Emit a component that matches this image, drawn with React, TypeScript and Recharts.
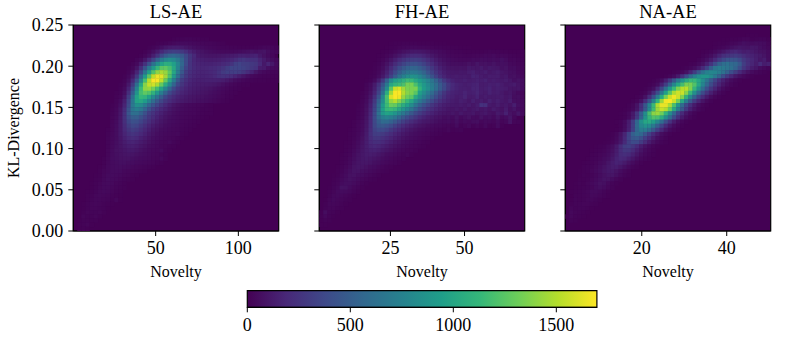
import React from 'react';
import { ScatterChart, Scatter, XAxis, YAxis, CartesianGrid, ReferenceArea, Label } from 'recharts';

// each row of a panel is [first column, counts...]; rows run from the top of the plot down, 50 x 50 bins
const lsRows: number[][] = [
  [], [], [],
  [24, 10, 15, 15, 20, 20, 15, 15, 10, 10],
  [20, 10, 15, 20, 30, 40, 50, 50, 50, 45, 40, 35, 30, 25, 25, 20, 15, 10],
  [18, 10, 20, 40, 70, 100, 120, 130, 130, 120, 100, 85, 70, 60, 50, 40, 35, 30, 25, 20, 20, 15, 15, 10, 10, 10, 10, 15, 20, 30, 30, 25, 15],
  [17, 10, 30, 70, 120, 190, 260, 300, 320, 310, 280, 230, 170, 130, 100, 85, 70, 60, 50, 45, 40, 40, 40, 45, 50, 60, 70, 80, 70, 80, 90, 60, 40, 30],
  [16, 10, 30, 70, 140, 240, 370, 480, 540, 560, 530, 460, 360, 260, 190, 120, 105, 95, 90, 90, 95, 100, 110, 120, 130, 150, 150, 140, 150, 160, 110, 75, 50, 30],
  [15, 20, 40, 100, 200, 340, 520, 680, 780, 820, 790, 690, 540, 380, 260, 180, 150, 140, 130, 125, 130, 135, 145, 160, 180, 210, 250, 270, 240, 230, 230, 170, 120, 80, 60, 40],
  [14, 15, 40, 120, 240, 420, 630, 830, 980, 1060, 1050, 960, 780, 560, 380, 250, 190, 170, 160, 155, 155, 165, 175, 190, 210, 250, 320, 340, 310, 300, 280, 260, 190, 110, 170, 110, 50],
  [13, 10, 30, 90, 220, 430, 680, 900, 1120, 1250, 1270, 1190, 1010, 760, 520, 340, 250, 200, 180, 175, 180, 190, 200, 220, 250, 300, 350, 350, 350, 330, 300, 270, 240, 130, 120, 70, 50, 40],
  [13, 20, 60, 170, 370, 660, 950, 1220, 1400, 1470, 1420, 1260, 1000, 710, 470, 300, 230, 190, 175, 170, 175, 185, 200, 240, 290, 320, 310, 320, 300, 260, 210, 160, 100, 60, 40, 30, 20, 20],
  [12, 10, 40, 110, 280, 570, 920, 1260, 1530, 1650, 1620, 1450, 1210, 900, 620, 390, 280, 210, 180, 165, 160, 165, 175, 195, 230, 240, 230, 210, 170, 130, 95, 65, 40, 30, 20, 15, 15, 10, 10],
  [12, 20, 70, 190, 430, 790, 1180, 1500, 1680, 1680, 1530, 1290, 1010, 720, 470, 300, 230, 180, 155, 145, 145, 150, 150, 150, 145, 130, 110, 85, 60, 45, 30, 20, 15, 10, 10, 10, 5, 5, 5],
  [11, 10, 30, 110, 290, 610, 1000, 1380, 1540, 1570, 1470, 1280, 1040, 790, 550, 360, 260, 195, 160, 140, 130, 125, 120, 115, 105, 90, 70, 50, 35, 25, 15, 10, 10],
  [11, 15, 50, 160, 390, 760, 1150, 1400, 1430, 1330, 1170, 980, 760, 550, 370, 270, 205, 165, 140, 125, 115, 105, 95, 85, 70, 55, 40, 30, 20, 15, 10],
  [10, 10, 20, 70, 220, 490, 870, 1180, 1270, 1220, 1090, 900, 720, 530, 370, 280, 215, 170, 145, 125, 110, 100, 90, 80, 70, 55, 45, 30, 20, 15, 10],
  [10, 15, 30, 100, 300, 610, 970, 1130, 1100, 970, 800, 640, 490, 350, 260, 200, 160, 135, 115, 100, 90, 80, 75, 65, 55, 45, 35, 25, 15, 10],
  [10, 20, 50, 140, 350, 670, 980, 1010, 930, 770, 600, 470, 360, 270, 210, 165, 135, 115, 100, 90, 80, 70, 65, 55, 45, 35, 25, 15, 10],
  [9, 10, 25, 70, 170, 380, 690, 850, 820, 700, 550, 440, 340, 260, 190, 140, 100, 75, 60, 45, 40, 35, 30, 25, 15, 10],
  [9, 15, 35, 90, 210, 430, 660, 730, 680, 550, 420, 320, 250, 190, 150, 110, 80, 65, 50, 40, 35, 30, 25, 15, 15, 10],
  [9, 20, 40, 100, 230, 450, 620, 620, 530, 420, 310, 250, 190, 150, 110, 85, 65, 50, 40, 35, 30, 30, 20, 15, 10, 10],
  [9, 25, 45, 105, 230, 400, 500, 500, 420, 340, 270, 210, 160, 120, 90, 70, 55, 45, 35, 30, 25, 20, 15, 10, 5],
  [9, 25, 50, 110, 220, 350, 420, 410, 350, 280, 220, 170, 130, 100, 75, 60, 50, 40, 30, 25, 20, 15, 10],
  [9, 30, 55, 110, 200, 300, 360, 340, 280, 220, 170, 130, 100, 80, 60, 50, 40, 35, 25, 20, 15, 10],
  [8, 10, 30, 60, 110, 190, 260, 300, 280, 230, 180, 140, 100, 80, 60, 50, 40, 35, 30, 20, 15, 10],
  [8, 15, 35, 60, 110, 170, 220, 250, 230, 190, 150, 110, 85, 65, 50, 40, 35, 30, 35, 15, 10],
  [8, 20, 40, 60, 100, 150, 190, 210, 190, 150, 120, 90, 70, 55, 45, 35, 30, 25, 15, 10],
  [8, 20, 40, 65, 95, 130, 160, 170, 150, 125, 100, 75, 60, 45, 35, 30, 40, 20, 10],
  [8, 20, 45, 70, 90, 115, 135, 140, 125, 100, 80, 60, 50, 40, 30, 25, 15, 10],
  [8, 25, 50, 75, 85, 100, 115, 115, 100, 80, 65, 50, 40, 35, 50, 20, 10],
  [8, 25, 50, 70, 80, 90, 95, 90, 75, 65, 55, 45, 35, 30, 20, 15],
  [7, 10, 30, 55, 65, 75, 80, 80, 70, 60, 50, 45, 40, 30, 25, 40, 15],
  [7, 10, 30, 50, 60, 70, 70, 60, 55, 45, 40, 35, 30, 25, 15, 10],
  [6, 5, 15, 35, 50, 55, 60, 50, 45, 35, 30, 25, 20, 15, 10],
  [6, 10, 25, 35, 50, 50, 50, 35, 30, 25, 20, 15, 10],
  [5, 5, 10, 30, 45, 50, 45, 40, 30, 25, 15, 10],
  [5, 10, 15, 35, 50, 45, 40, 30, 20, 15, 10],
  [4, 5, 15, 25, 40, 45, 40, 25, 20, 10],
  [4, 5, 15, 30, 40, 40, 30, 20, 15, 10],
  [3, 5, 10, 20, 35, 40, 35, 25, 15, 10],
  [3, 10, 15, 30, 35, 30, 25, 15, 10, 5],
  [3, 10, 20, 30, 30, 25, 20, 10, 30, 5],
  [2, 5, 15, 25, 30, 25, 15, 10, 5],
  [2, 5, 15, 25, 25, 20, 15, 5],
  [2, 10, 25, 20, 20, 25, 10],
  [2, 25, 15, 15, 25, 10],
  [1, 5, 15, 15, 10, 10],
  [1, 10, 15, 25, 5],
  [1, 5, 10, 5],
];

const fhRows: number[][] = [
  [], [], [], [],
  [17, 5, 10, 10, 15, 15, 15, 15, 10, 10, 10, 10, 5, 5, 5],
  [16, 5, 10, 15, 25, 30, 35, 40, 40, 35, 35, 30, 25, 20, 20, 15, 15, 10, 10, 5, 5, 5],
  [15, 5, 10, 20, 35, 55, 75, 90, 105, 110, 105, 95, 80, 65, 55, 45, 35, 25, 20, 15, 15, 10, 10, 10, 10, 10, 15, 20, 15, 15, 10, 10, 5, 5, 5, 5],
  [14, 5, 10, 25, 45, 75, 110, 145, 175, 195, 200, 190, 165, 135, 105, 80, 60, 50, 35, 30, 25, 25, 20, 20, 25, 30, 30, 40, 35, 45, 30, 35, 30, 20, 15, 10, 5],
  [14, 10, 25, 50, 90, 140, 195, 245, 285, 305, 310, 290, 250, 205, 160, 120, 90, 70, 55, 45, 40, 35, 35, 35, 50, 45, 60, 55, 50, 60, 50, 70, 50, 25, 30, 20, 10],
  [13, 5, 15, 40, 80, 135, 205, 280, 345, 395, 420, 420, 385, 330, 270, 210, 155, 115, 90, 70, 60, 60, 55, 60, 75, 65, 95, 75, 80, 70, 85, 65, 70, 65, 40, 35, 25, 15],
  [13, 10, 25, 60, 115, 190, 285, 385, 465, 520, 550, 540, 495, 430, 355, 275, 205, 150, 115, 90, 85, 80, 85, 80, 110, 100, 95, 120, 90, 110, 100, 95, 70, 80, 50, 55, 35, 20],
  [12, 5, 15, 35, 80, 150, 250, 370, 490, 590, 650, 680, 670, 620, 540, 440, 340, 255, 190, 140, 115, 105, 100, 110, 105, 130, 145, 115, 115, 135, 100, 115, 130, 100, 85, 70, 65, 40, 25],
  [12, 10, 20, 55, 110, 200, 330, 480, 630, 750, 830, 860, 840, 770, 670, 550, 430, 320, 230, 170, 130, 120, 130, 120, 125, 115, 160, 150, 125, 110, 130, 125, 130, 95, 110, 70, 75, 55, 35],
  [11, 5, 15, 50, 130, 280, 520, 800, 950, 1000, 1080, 1150, 1130, 1020, 930, 850, 760, 650, 530, 400, 280, 200, 155, 130, 130, 145, 125, 135, 150, 135, 155, 120, 135, 120, 110, 125, 100, 70, 85, 60],
  [11, 20, 50, 120, 240, 430, 680, 1000, 1100, 1150, 1200, 1330, 1340, 1200, 1020, 900, 800, 700, 600, 480, 380, 270, 195, 160, 145, 130, 140, 155, 165, 125, 130, 145, 135, 150, 125, 100, 110, 125, 90, 60],
  [11, 25, 60, 140, 290, 520, 820, 1250, 1550, 1600, 1450, 1350, 1350, 1350, 1100, 930, 830, 720, 600, 480, 370, 260, 190, 160, 140, 140, 130, 165, 170, 130, 140, 160, 125, 140, 130, 120, 95, 90, 95, 55],
  [10, 10, 30, 75, 170, 340, 620, 1050, 1450, 1680, 1690, 1500, 1380, 1350, 1250, 950, 820, 700, 590, 470, 360, 260, 190, 160, 145, 135, 165, 135, 145, 175, 130, 120, 155, 125, 135, 110, 85, 100, 70, 45, 30],
  [10, 15, 40, 100, 220, 430, 780, 1200, 1600, 1690, 1650, 1420, 1300, 1250, 1020, 850, 720, 600, 490, 390, 300, 220, 170, 150, 125, 135, 170, 120, 125, 160, 110, 130, 115, 115, 120, 120, 95, 110, 60, 65, 35],
  [10, 20, 50, 125, 280, 520, 820, 1180, 1420, 1500, 1380, 1250, 1130, 1000, 820, 680, 560, 460, 370, 290, 230, 180, 150, 130, 115, 140, 125, 100, 145, 115, 130, 105, 150, 115, 140, 110, 95, 130, 70, 60, 40],
  [9, 10, 25, 65, 150, 320, 580, 920, 1150, 1300, 1280, 1170, 1050, 950, 820, 650, 520, 420, 340, 270, 210, 170, 140, 125, 115, 110, 120, 105, 125, 100, 130, 240, 230, 115, 100, 130, 95, 110, 85, 140, 70, 45],
  [9, 15, 30, 75, 170, 350, 600, 950, 1130, 1150, 1120, 1000, 880, 770, 650, 520, 410, 330, 260, 210, 170, 140, 120, 100, 95, 110, 90, 115, 85, 105, 120, 95, 110, 85, 125, 100, 80, 125, 70, 95, 55, 40],
  [9, 15, 35, 80, 180, 370, 640, 900, 980, 950, 880, 780, 680, 570, 470, 370, 300, 240, 190, 160, 130, 110, 95, 85, 100, 80, 110, 85, 90, 105, 75, 95, 110, 80, 70, 115, 90, 150, 80, 60, 100, 50],
  [9, 20, 40, 90, 190, 380, 580, 720, 760, 720, 650, 560, 470, 390, 320, 260, 200, 160, 130, 110, 90, 80, 60, 70, 50, 80, 45, 65, 80, 50, 45, 85, 55, 70, 45, 85, 40, 55, 95, 35],
  [8, 10, 25, 45, 95, 195, 370, 500, 590, 580, 530, 460, 390, 320, 260, 210, 170, 135, 110, 100, 85, 70, 55, 50, 55, 40, 70, 35, 50, 40, 60, 65, 30, 45, 40, 30, 55, 25, 35, 90, 25, 20],
  [8, 10, 30, 50, 100, 200, 360, 450, 470, 440, 390, 320, 260, 210, 170, 140, 110, 90, 75, 60, 50, 40, 40, 30, 28, 22, 50, 15, 25, 40, 15, 30, 15, 40, 10, 15, 50, 8],
  [7, 5, 15, 30, 55, 110, 210, 330, 380, 380, 340, 280, 230, 190, 150, 120, 95, 75, 60, 50, 40, 35, 25, 20, 15, 30, 10, 15, 20],
  [7, 10, 15, 35, 65, 120, 220, 300, 310, 290, 250, 210, 170, 140, 110, 90, 70, 55, 45, 35, 30, 20, 15, 10],
  [7, 10, 20, 40, 75, 130, 210, 260, 260, 235, 200, 170, 135, 110, 85, 70, 55, 45, 35, 25, 20, 10],
  [6, 5, 10, 25, 50, 85, 135, 195, 225, 225, 195, 165, 135, 105, 85, 65, 50, 40, 30, 25, 15, 10],
  [6, 10, 15, 30, 60, 95, 135, 175, 190, 175, 150, 125, 100, 80, 65, 50, 40, 30, 25, 15, 10],
  [6, 10, 20, 40, 70, 100, 130, 150, 155, 140, 115, 95, 75, 60, 45, 35, 25, 25, 15],
  [5, 5, 15, 25, 50, 80, 105, 125, 130, 120, 100, 80, 60, 50, 40, 30, 20, 30, 10],
  [5, 10, 15, 35, 60, 85, 105, 115, 105, 90, 75, 60, 45, 35, 25, 20, 15],
  [5, 10, 20, 40, 70, 90, 100, 100, 90, 70, 60, 45, 35, 25, 20, 10],
  [4, 5, 15, 30, 50, 80, 95, 90, 75, 60, 50, 35, 25, 15, 10],
  [4, 10, 20, 40, 65, 85, 85, 70, 60, 45, 35, 25, 15, 10],
  [3, 5, 10, 30, 50, 75, 80, 65, 55, 40, 30, 20, 10],
  [3, 10, 20, 40, 60, 75, 65, 50, 35, 25, 15, 10],
  [3, 15, 25, 50, 65, 65, 50, 35, 20, 10],
  [2, 5, 20, 35, 80, 75, 50, 30, 20, 10],
  [2, 10, 25, 45, 50, 45, 35, 20, 10],
  [2, 15, 35, 40, 35, 25, 15, 5],
  [1, 5, 25, 40, 30, 25, 15, 10],
  [1, 10, 30, 30, 25, 15, 5],
  [1, 15, 25, 25, 15, 10],
  [0, 5, 60, 20, 15, 5],
  [0, 10, 35, 15, 5],
  [0, 5, 15, 10],
  [0, 5, 5],
];

const naRows: number[][] = [
  [], [],
  [44, 5, 5, 5],
  [38, 5, 5, 10, 10, 15, 25, 25, 10, 15, 20, 20, 10],
  [36, 5, 10, 10, 15, 30, 35, 50, 70, 60, 50, 60, 55, 50, 25],
  [36, 10, 20, 30, 45, 70, 85, 100, 90, 85, 100, 95, 70, 50, 35],
  [33, 5, 10, 20, 40, 70, 100, 140, 170, 185, 155, 130, 140, 120, 100, 80, 75, 50],
  [33, 15, 30, 60, 100, 160, 220, 250, 270, 285, 255, 210, 175, 155, 130, 115, 90, 55],
  [32, 15, 35, 70, 120, 190, 290, 370, 430, 440, 430, 370, 280, 220, 180, 140, 100, 130, 60],
  [30, 10, 15, 40, 80, 150, 250, 390, 530, 610, 630, 580, 560, 470, 310, 230, 175, 130, 200, 130, 150],
  [28, 5, 15, 30, 60, 110, 200, 330, 500, 650, 710, 690, 650, 620, 530, 400, 270, 190, 130, 100, 60, 40, 20],
  [26, 10, 20, 40, 80, 170, 300, 470, 630, 740, 780, 770, 720, 640, 530, 400, 300, 200, 130, 80, 50, 30, 20, 10],
  [24, 10, 25, 55, 120, 240, 400, 580, 730, 840, 890, 880, 800, 680, 540, 400, 280, 180, 110, 70, 40, 20, 10],
  [21, 10, 25, 60, 140, 280, 460, 680, 870, 1020, 1130, 1130, 1000, 830, 650, 480, 340, 230, 150, 90, 50, 25, 10],
  [20, 10, 25, 60, 150, 310, 530, 780, 1000, 1180, 1340, 1340, 1220, 1000, 770, 560, 390, 260, 170, 100, 55, 25, 10],
  [19, 10, 30, 70, 180, 360, 610, 880, 1140, 1360, 1510, 1520, 1360, 1110, 850, 600, 410, 270, 170, 95, 50, 20],
  [18, 10, 25, 80, 200, 400, 670, 960, 1240, 1480, 1570, 1560, 1380, 1130, 840, 590, 390, 250, 150, 80, 40, 15],
  [17, 10, 25, 80, 210, 420, 710, 1030, 1340, 1560, 1660, 1570, 1370, 1080, 790, 530, 340, 210, 120, 60, 25, 10],
  [16, 10, 25, 80, 210, 430, 740, 1090, 1430, 1670, 1690, 1560, 1320, 1010, 720, 470, 290, 170, 90, 40, 15],
  [15, 10, 30, 85, 220, 450, 770, 1140, 1480, 1640, 1640, 1470, 1200, 880, 590, 370, 220, 120, 60, 25, 10],
  [14, 5, 15, 40, 100, 240, 470, 800, 1160, 1440, 1560, 1500, 1300, 1020, 720, 470, 280, 150, 80, 35, 15],
  [13, 5, 15, 40, 110, 260, 500, 830, 1180, 1390, 1430, 1320, 1100, 830, 560, 350, 200, 105, 50, 20],
  [13, 5, 15, 45, 120, 280, 530, 860, 1120, 1220, 1190, 1050, 830, 600, 380, 230, 120, 60, 25, 10],
  [12, 5, 15, 50, 130, 300, 560, 850, 1000, 1030, 950, 790, 600, 410, 250, 130, 65, 30, 10],
  [13, 15, 55, 140, 310, 570, 790, 860, 810, 690, 510, 340, 200, 110, 55, 25, 10],
  [12, 5, 20, 65, 150, 320, 560, 700, 700, 610, 470, 320, 190, 105, 50, 25, 10],
  [11, 10, 30, 80, 170, 330, 510, 590, 560, 450, 320, 200, 120, 60, 30, 10],
  [10, 5, 15, 40, 95, 190, 340, 460, 480, 420, 310, 210, 130, 70, 35, 15],
  [9, 5, 10, 25, 55, 110, 200, 320, 390, 380, 300, 210, 130, 75, 40, 20, 10],
  [7, 5, 10, 15, 35, 65, 120, 210, 300, 320, 270, 200, 130, 80, 45, 25, 10],
  [6, 5, 10, 15, 25, 45, 75, 130, 210, 270, 260, 205, 140, 90, 50, 30, 15],
  [6, 10, 15, 25, 35, 55, 90, 140, 205, 225, 200, 150, 100, 60, 35, 20, 10],
  [5, 5, 15, 20, 30, 50, 70, 110, 160, 190, 180, 140, 100, 60, 35, 20, 10],
  [4, 5, 10, 15, 25, 45, 60, 95, 130, 160, 150, 120, 80, 50, 25, 10],
  [4, 10, 15, 20, 35, 55, 80, 110, 130, 130, 100, 70, 40, 20, 10],
  [3, 5, 10, 15, 30, 45, 65, 90, 110, 110, 85, 55, 30, 15],
  [3, 5, 15, 10, 20, 35, 55, 75, 95, 95, 70, 40, 20, 10],
  [3, 10, 10, 15, 30, 45, 65, 85, 80, 55, 30, 15],
  [2, 5, 15, 10, 25, 40, 55, 75, 70, 40, 20, 10],
  [2, 5, 10, 15, 20, 30, 50, 65, 50, 30, 15],
  [1, 5, 10, 15, 20, 30, 45, 45, 35, 20, 10],
  [2, 15, 15, 20, 25, 40, 35, 25, 15, 5],
  [1, 5, 20, 15, 20, 30, 30, 20, 10],
  [1, 10, 20, 20, 25, 25, 15, 10],
  [1, 25, 15, 20, 20, 15, 5],
  [1, 35, 20, 15, 10, 5],
  [0, 5, 30, 15, 10, 5],
  [1, 15, 10],
];

const yTicks = [0, 0.05, 0.1, 0.15, 0.2, 0.25];
const colorbarTicks = [0, 500, 1000, 1500];
const viridis = ['#440154', '#482878', '#3e4989', '#31688e', '#26828e', '#1f9e89', '#35b779', '#6ece58', '#b5de2b', '#fde725'];

const BINS = 50;
const VMAX = 1697;
const FONT = '"Liberation Serif", "Times New Roman", serif';

const hexToRgb = (hex: string) => [1, 3, 5].map((i) => parseInt(hex.slice(i, i + 2), 16));

const colorFor = (count: number) => {
  const t = Math.min(count / VMAX, 1) * (viridis.length - 1);
  const i = Math.min(Math.floor(t), viridis.length - 2);
  const a = hexToRgb(viridis[i]);
  const b = hexToRgb(viridis[i + 1]);
  const mix = a.map((v, k) => Math.round(v + (b[k] - v) * (t - i)));
  return `rgb(${mix.join(',')})`;
};

// bin centres in data space, only the non-empty bins (the plot background is the zero colour)
const toCells = (rows: number[][], xDomain: number[]) => {
  const dx = (xDomain[1] - xDomain[0]) / BINS;
  const dy = 0.25 / BINS;
  return rows.flatMap((row, r) =>
    row.slice(1).map((count, k) => ({
      x: xDomain[0] + (row[0] + k + 0.5) * dx,
      y: 0.25 - (r + 0.5) * dy,
      count,
    }))
  );
};

const PLOT_W = 205.4;
const PLOT_H = 206;

const BinRect = (props: any) => {
  const w = PLOT_W / BINS + 0.4;
  const h = PLOT_H / BINS + 0.4;
  return <rect x={props.cx - w / 2} y={props.cy - h / 2} width={w} height={h} fill={colorFor(props.payload.count)} />;
};

const tickStyle = { fill: '#000', fontSize: 18, fontFamily: FONT };

type PanelProps = {
  title: string;
  rows: number[][];
  xDomain: number[];
  xTicks: number[];
  left: number;
  showY?: boolean;
};

const Panel = ({ title, rows, xDomain, xTicks, left, showY }: PanelProps) => (
  <div style={{ position: 'absolute', left: left - 73.3, top: 0 }}>
    <ScatterChart width={300} height={285} margin={{ top: 25, right: 300 - 73.3 - PLOT_W, bottom: 0, left: 33.3 }}>
      <CartesianGrid horizontal={false} vertical={false} fill="#440154" />
      <XAxis
        type="number"
        dataKey="x"
        domain={xDomain}
        ticks={xTicks}
        allowDataOverflow
        height={54}
        tick={tickStyle}
        tickSize={5}
        tickMargin={5}
        stroke="#000"
      >
        <Label value="Novelty" position="insideTop" offset={35} style={{ fontSize: 16, fontFamily: FONT, fill: '#000' }} />
      </XAxis>
      <YAxis
        type="number"
        dataKey="y"
        domain={[0, 0.25]}
        ticks={yTicks}
        allowDataOverflow
        interval={0}
        width={40}
        tick={tickStyle}
        tickSize={5}
        tickMargin={5}
        stroke="#000"
        tickFormatter={(v: number) => (showY ? v.toFixed(2) : '')}
      />
      <Scatter data={toCells(rows, xDomain)} shape={BinRect} isAnimationActive={false} />
      <ReferenceArea x1={xDomain[0]} x2={xDomain[1]} y1={0} y2={0.25} fill="none" stroke="#000" strokeWidth={1.2}>
        <Label value={title} position="top" offset={7} style={{ fontSize: 18.5, fontFamily: FONT, fill: '#000' }} />
        {showY && (
          <Label
            value="KL-Divergence"
            angle={-90}
            position="center"
            dx={-163}
            style={{ fontSize: 16, fontFamily: FONT, fill: '#000' }}
          />
        )}
      </ReferenceArea>
    </ScatterChart>
  </div>
);

const Colorbar = () => (
  <div style={{ position: 'absolute', left: 200, top: 280 }}>
    <ScatterChart width={450} height={58} margin={{ top: 10.7, right: 450 - 47.3 - 349.6, bottom: 0, left: 47.3 }}>
      <defs>
        <linearGradient id="viridisRamp" x1="0" y1="0" x2="1" y2="0">
          {viridis.map((c, i) => (
            <stop key={c} offset={i / (viridis.length - 1)} stopColor={c} />
          ))}
        </linearGradient>
      </defs>
      <CartesianGrid horizontal={false} vertical={false} fill="url(#viridisRamp)" fillOpacity={1} />
      <XAxis
        type="number"
        dataKey="x"
        domain={[0, VMAX]}
        ticks={colorbarTicks}
        allowDataOverflow
        height={30.7}
        tick={tickStyle}
        tickSize={5}
        tickMargin={6}
        stroke="#000"
      />
      <YAxis type="number" dataKey="y" domain={[0, 1]} ticks={[]} width={0} tick={false} tickLine={false} stroke="#000" />
      <Scatter data={colorbarTicks.map((x) => ({ x, y: 0 }))} shape={() => <g />} isAnimationActive={false} />
      <ReferenceArea x1={0} x2={VMAX} y1={0} y2={1} fill="none" stroke="#000" strokeWidth={1.2} />
    </ScatterChart>
  </div>
);

export default function App() {
  return (
    <div style={{ position: 'absolute', left: 0, top: 0, width: 811, height: 338, background: '#fff', overflow: 'hidden', fontFamily: FONT }}>
      <Panel title="LS-AE" rows={lsRows} xDomain={[0.2, 124.4]} xTicks={[50, 100]} left={73.3} showY />
      <Panel title="FH-AE" rows={fhRows} xDomain={[1, 70.3]} xTicks={[25, 50]} left={319.3} />
      <Panel title="NA-AE" rows={naRows} xDomain={[2, 50.35]} xTicks={[20, 40]} left={565.3} />
      <Colorbar />
    </div>
  );
}
